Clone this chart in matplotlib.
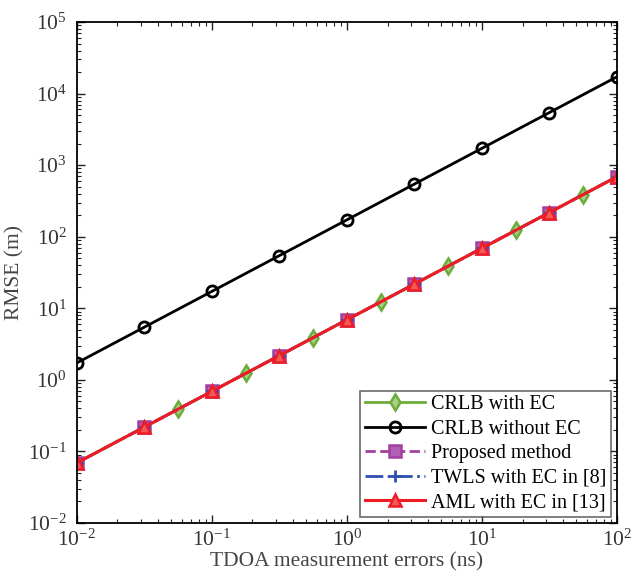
import matplotlib.pyplot as plt
from matplotlib.ticker import LogLocator, NullFormatter

plt.rcParams["font.family"] = ["Liberation Serif", "DejaVu Serif"]
plt.rcParams["mathtext.fontset"] = "stix"

# TDOA measurement errors (ns)
x_fine = [0.01, 0.0178, 0.0316, 0.0562, 0.1, 0.178, 0.316, 0.562, 1.0,
          1.78, 3.16, 5.62, 10.0, 17.8, 31.6, 56.2, 100.0]
x_coarse = [0.01, 0.0316, 0.1, 0.316, 1.0, 3.16, 10.0, 31.6, 100.0]

# RMSE (m)
crlb_ec = [0.069, 0.123, 0.218, 0.388, 0.69, 1.23, 2.18, 3.88, 6.9,
           12.3, 21.8, 38.8, 69.0, 123.0, 218.0, 388.0, 690.0]
crlb_no_ec = [1.72, 5.44, 17.2, 54.4, 172.0, 544.0, 1720.0, 5440.0, 17200.0]
proposed = [0.069, 0.218, 0.69, 2.18, 6.9, 21.8, 69.0, 218.0, 690.0]
twls = [0.069, 0.218, 0.69, 2.18, 6.9, 21.8, 69.0, 218.0, 690.0]
aml = [0.069, 0.218, 0.69, 2.18, 6.9, 21.8, 69.0, 218.0, 690.0]

fig = plt.figure(figsize=(6.4, 5.81), dpi=100)
ax = fig.add_axes([0.120, 0.100, 0.844, 0.862])

# diamonds only between the half-decade points, the rest sit under the squares
ax.plot(x_fine, crlb_ec, "-", color="#6aad3a", lw=2, marker="d", ms=8,
        mfc="#a8d080", mew=1.8, markevery=[3, 5, 7, 9, 11, 13, 15],
        label="CRLB with EC")
ax.plot(x_coarse, crlb_no_ec, "-", color="black", lw=2, marker="o", ms=8,
        mfc="none", mew=2, label="CRLB without EC")
ax.plot(x_coarse, proposed, "--", color="#a23fa0", lw=2, marker="s", ms=9,
        mfc="#b060b0", mew=1.8, label="Proposed method")
ax.plot(x_coarse, twls, "-.", color="#2f4fb0", lw=2, marker="+", ms=9,
        mew=2, label="TWLS with EC in [8]")
ax.plot(x_coarse, aml, "-", color="#f01c24", lw=2.2, marker="^", ms=9,
        mfc="#f05a5a", mew=1.8, label="AML with EC in [13]")

ax.set_xscale("log")
ax.set_yscale("log")
ax.set_xlim(1e-2, 1e2)
ax.set_ylim(1e-2, 1e5)
ax.xaxis.set_major_locator(LogLocator(base=10, numticks=10))
ax.yaxis.set_major_locator(LogLocator(base=10, numticks=10))
ax.xaxis.set_minor_locator(LogLocator(base=10, subs=range(2, 10), numticks=20))
ax.yaxis.set_minor_locator(LogLocator(base=10, subs=range(2, 10), numticks=20))
ax.yaxis.set_minor_formatter(NullFormatter())
ax.xaxis.set_minor_formatter(NullFormatter())
ax.tick_params(which="both", direction="in", top=True, right=True,
               labelsize=15.5, colors="#222222", labelcolor="#333333")
ax.tick_params(which="major", length=6, width=1)
ax.tick_params(which="minor", length=3, width=0.8)
ax.tick_params(axis="x", pad=5)
ax.tick_params(axis="y", pad=7)
for spine in ax.spines.values():
    spine.set_linewidth(1.3)

ax.set_xlabel("TDOA measurement errors (ns)", fontsize=15.5, color="#444444",
              labelpad=1)
ax.set_ylabel("RMSE (m)", fontsize=15.5, color="#444444", labelpad=3)

leg = ax.legend(loc="lower right", fontsize=14.5, frameon=True, fancybox=False,
                edgecolor="#444444", handlelength=3, borderaxespad=0.3,
                labelspacing=0.27, borderpad=0.22, handletextpad=0.3)
leg.get_frame().set_linewidth(1.2)

fig.savefig("out.png", dpi=100)
